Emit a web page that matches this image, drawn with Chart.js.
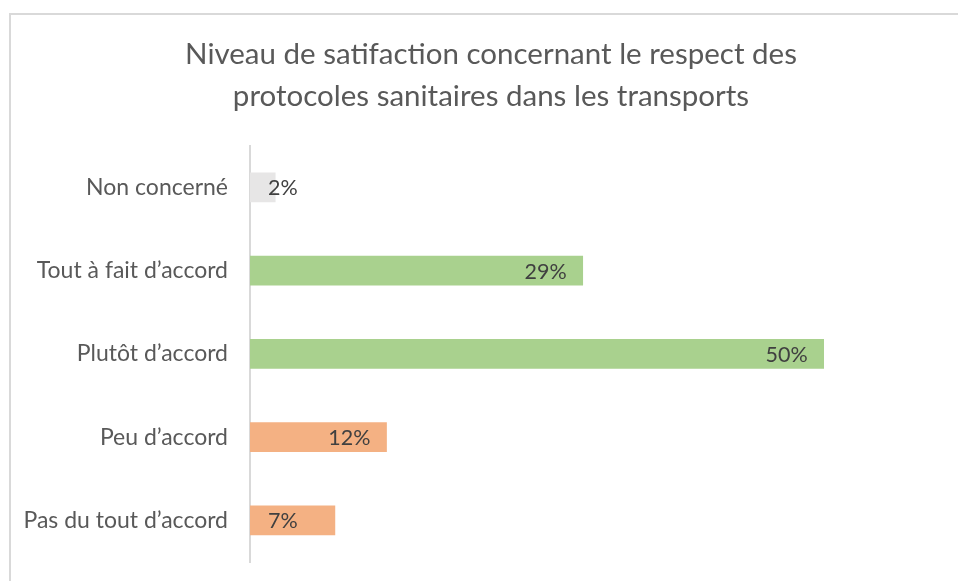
<!DOCTYPE html>
<html>
<head>
<meta charset="utf-8">
<script src="https://cdn.jsdelivr.net/npm/chart.js@4"></script>
<style>
  html, body { margin: 0; padding: 0; background: #fff; }
  #wrap { position: relative; width: 958px; height: 581px; overflow: hidden; }
  #frame { position: absolute; left: 9px; top: 13px; width: 1000px; height: 600px;
           border-left: 2px solid #d9d9d9; border-top: 2px solid #d9d9d9; }
  canvas { position: absolute; left: 0; top: 0; }
</style>
</head>
<body>
<div id="wrap">
  <div id="frame"></div>
  <canvas id="chart" width="982" height="581"></canvas>
</div>
<script>
var categories = ['Non concerné', 'Tout à fait d’accord', 'Plutôt d’accord', 'Peu d’accord', 'Pas du tout d’accord'];
var values = [2.2, 29, 50, 11.9, 7.4];
var barColors = ['#e7e6e6', '#a9d18e', '#a9d18e', '#f4b183', '#f4b183'];
var titleLines = ['Niveau de satifaction concernant le respect des', 'protocoles sanitaires dans les transports'];

var FONT = 'Lato, "Open Sans", sans-serif';

var barLabels = {
  id: 'barLabels',
  afterDatasetsDraw: function(chart) {
    var ctx = chart.ctx;
    var meta = chart.getDatasetMeta(0);
    ctx.save();
    ctx.font = '21.5px ' + FONT;
    ctx.fillStyle = '#404040';
    ctx.textBaseline = 'middle';
    meta.data.forEach(function(bar, i) {
      var txt = Math.round(values[i]) + '%';
      var w = ctx.measureText(txt).width;
      var x;
      if (bar.x - bar.base > 100) {
        x = bar.x - 16 - w;
      } else {
        x = bar.base + 18;
      }
      ctx.fillText(txt, x, bar.y + 1);
    });
    ctx.restore();
  }
};

new Chart(document.getElementById('chart'), {
  type: 'bar',
  data: {
    labels: categories,
    datasets: [{
      data: values,
      backgroundColor: barColors,
      barThickness: 29
    }]
  },
  plugins: [barLabels],
  options: {
    indexAxis: 'y',
    responsive: false,
    animation: false,
    layout: { padding: { left: 0, right: 0, top: 0, bottom: 19 } },
    plugins: {
      legend: { display: false },
      tooltip: { enabled: false },
      title: {
        display: true,
        text: titleLines,
        color: '#595959',
        font: { family: FONT, size: 29.5, weight: 'normal', lineHeight: 1.42 },
        padding: { top: 34, bottom: 28 }
      }
    },
    scales: {
      x: {
        display: false,
        min: 0,
        max: 63.8
      },
      y: {
        grid: { display: false },
        border: { display: true, color: '#d9d9d9', width: 2 },
        ticks: {
          color: '#595959',
          font: { family: FONT, size: 23 },
          padding: 14
        },
        afterFit: function(scale) {
          scale.width = 250;
          scale.paddingTop = 0;
          scale.paddingBottom = 0;
        }
      }
    }
  }
});
</script>
</body>
</html>
